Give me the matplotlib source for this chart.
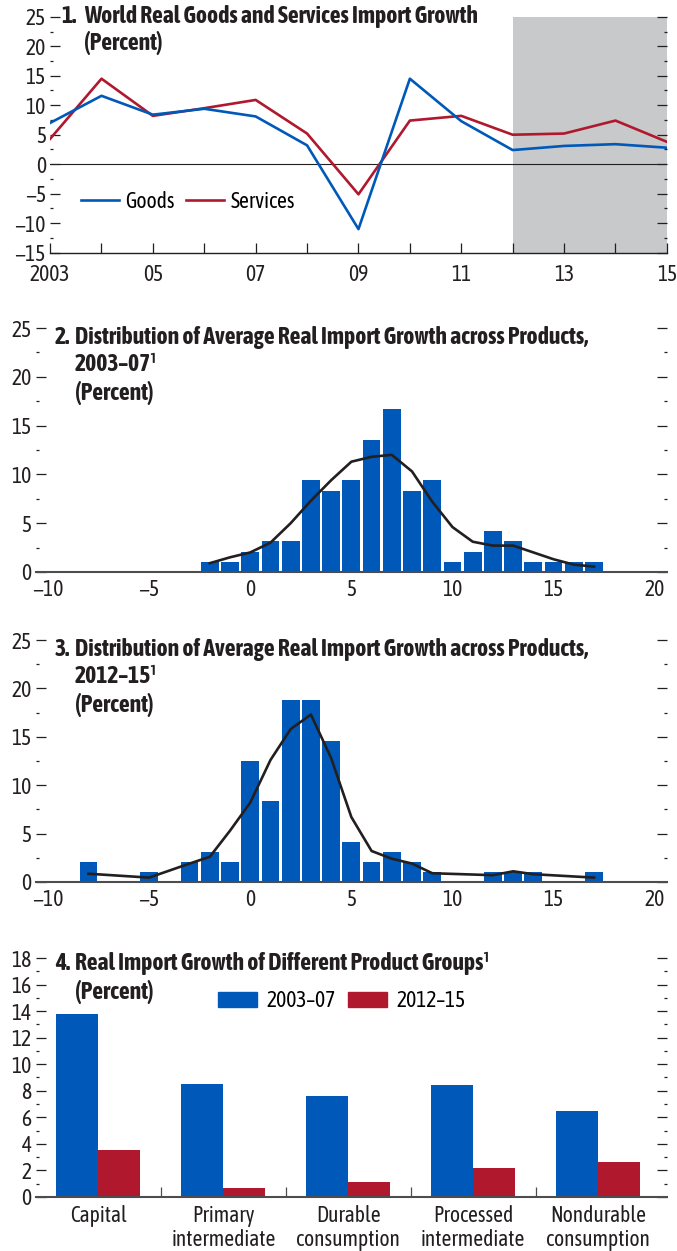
import matplotlib
matplotlib.use("Agg")
import matplotlib.pyplot as plt
import matplotlib.patheffects as pe
from matplotlib import font_manager
from matplotlib.font_manager import FontProperties
from matplotlib.ticker import MultipleLocator
from matplotlib.patches import Patch

# ---- data ----
years = list(range(2003, 2016))
goods = [7.0, 11.6, 8.4, 9.4, 8.1, 3.2, -11.0, 14.5, 7.3, 2.4, 3.1, 3.4, 2.8]
services = [4.3, 14.5, 8.2, 9.5, 10.9, 5.2, -5.1, 7.4, 8.2, 5.0, 5.2, 7.4, 3.8]

bins_0307 = list(range(-2, 18))
share_0307 = [1.04, 1.04, 2.08, 3.13, 3.13, 9.38, 8.33, 9.38, 13.54, 16.67,
              8.33, 9.38, 1.04, 2.08, 4.17, 3.13, 1.04, 1.04, 1.04, 1.04]
kde_x_0307 = list(range(-2, 18))
kde_y_0307 = [0.9, 1.5, 2.0, 3.0, 5.0, 7.3, 9.4, 11.3, 11.8, 12.0,
              10.3, 7.2, 4.6, 3.1, 2.7, 2.7, 2.0, 1.3, 0.75, 0.55]

bins_1215 = [-8, -5, -3, -2, -1, 0, 1, 2, 3, 4, 5, 6, 7, 8, 9, 12, 13, 14, 17]
share_1215 = [2.08, 1.04, 2.08, 3.13, 2.08, 12.5, 8.33, 18.75, 18.75, 14.58,
              4.17, 2.08, 3.13, 2.08, 1.04, 1.04, 1.04, 1.04, 1.04]
kde_x_1215 = [-8, -5, -3, -2, -1, 0, 1, 2, 3, 4, 5, 6, 7, 8, 9, 12, 13, 14, 17]
kde_y_1215 = [0.85, 0.45, 1.9, 2.6, 5.3, 8.2, 12.6, 15.8, 17.3, 12.8,
              6.7, 3.2, 2.4, 1.9, 0.9, 0.7, 1.1, 0.8, 0.45]

groups = ["Capital", "Primary\nintermediate", "Durable\nconsumption",
          "Processed\nintermediate", "Nondurable\nconsumption"]
growth_0307 = [13.8, 8.5, 7.6, 8.4, 6.5]
growth_1215 = [3.5, 0.7, 1.1, 2.2, 2.6]

# ---- style ----
# the original uses a narrow grotesque; take a narrow face if one is installed
names = sorted({f.name for f in font_manager.fontManager.ttflist})
narrow = [n for n in names if "Narrow" in n or "Condensed" in n]
pref = [n for n in narrow if "Liberation" in n or "Arial" in n] + narrow


def has_bold(name):
    try:
        path = font_manager.findfont(FontProperties(family=name, weight="bold"),
                                     fallback_to_default=False)
    except Exception:
        return False
    return "bold" in path.lower()


font, FS, TFS, fake_bold = "Liberation Sans", 12, 13, False
if pref:
    with_bold = [n for n in pref if has_bold(n)]
    if with_bold:
        font, FS, TFS = with_bold[0], 15.5, 17
    else:
        font, FS, TFS, fake_bold = pref[0], 14, 15, True
plt.rcParams["font.family"] = [font, "DejaVu Sans"]
plt.rcParams["font.size"] = FS

BLUE = "#0059B8"
RED = "#B0182E"
GRAY = "#C8C9CA"
INK = "#231F20"
SPINE = "#4D4D4F"


def style_axes(ax, ymin, ymax, major, minor):
    ax.set_ylim(ymin, ymax)
    ax.yaxis.set_major_locator(MultipleLocator(major))
    ax.yaxis.set_minor_locator(MultipleLocator(minor))
    ax.tick_params(axis="y", which="both", direction="in", left=True, right=True,
                   labelleft=True, labelright=False, colors=INK, pad=3)
    ax.tick_params(axis="y", which="major", length=7, width=0.9)
    ax.tick_params(axis="y", which="minor", length=2.5, width=0.9)
    for s in ["left", "right", "top"]:
        ax.spines[s].set_visible(False)
    ax.tick_params(axis="x", colors=INK)


def add_title(ax, num, lines, x0, x1, y, step):
    # one text per line, stepped down in points
    effects = [pe.withStroke(linewidth=1.0, foreground=INK)] if fake_bold else None
    kw = dict(xycoords="axes fraction", textcoords="offset points", fontweight="bold",
              fontsize=TFS, va="top", ha="left", color=INK, path_effects=effects)
    ax.annotate(num, (x0, y), xytext=(0, 0), **kw)
    for k, s in enumerate(lines):
        ax.annotate(s, (x1, y), xytext=(0, -k * step), **kw)


fig = plt.figure(figsize=(6.77, 12.51), dpi=100)

# ---- panel 1 ----
ax1 = fig.add_axes([0.074, 0.798, 0.911, 0.1886])
ax1.axvspan(2012, 2015, color=GRAY, lw=0, zorder=0)
ax1.axhline(0, color=INK, lw=0.8, zorder=1)
ax1.plot(years, goods, color=BLUE, lw=1.9, label="Goods", zorder=3)
ax1.plot(years, services, color=RED, lw=1.9, label="Services", zorder=2)
ax1.set_xlim(2003, 2015)
style_axes(ax1, -15, 25, 5, 2.5)
ax1.set_xticks(years)
ax1.set_xticklabels(["2003" if y == 2003 else ("%02d" % (y % 100) if y % 2 == 1 else "")
                     for y in years])
ax1.tick_params(axis="x", direction="in", length=7, width=0.9, pad=8)
ax1.spines["bottom"].set_color(INK)
ax1.spines["bottom"].set_linewidth(1.0)
add_title(ax1, "1.", ["World Real Goods and Services Import Growth", "(Percent)"],
          0.018, 0.055, 1.05, step=18.5)
ax1.legend(loc="center left", bbox_to_anchor=(0.036, 0.215), frameon=False,
           ncol=2, handlelength=1.75, columnspacing=0.55, handletextpad=0.3,
           borderaxespad=0, fontsize=FS)

# ---- panels 2 and 3 ----
def hist_panel(rect, bins, share, kx, ky, num, lines):
    ax = fig.add_axes(rect)
    ax.bar(bins, share, width=0.88, color=BLUE, zorder=2)
    ax.plot(kx, ky, color=INK, lw=1.9, zorder=3)
    ax.set_xlim(-10.6, 20.6)
    style_axes(ax, 0, 25, 5, 2.5)
    ax.set_xticks(range(-10, 21, 5))
    ax.tick_params(axis="x", length=0, pad=5)
    ax.spines["bottom"].set_color(SPINE)
    ax.spines["bottom"].set_linewidth(1.5)
    add_title(ax, num, lines, 0.03, 0.062, 1.01, step=19.8)
    return ax


hist_panel([0.053, 0.5428, 0.932, 0.195], bins_0307, share_0307,
           kde_x_0307, kde_y_0307, "2.",
           ["Distribution of Average Real Import Growth across Products,",
            "2003\u201307\u00b9", "(Percent)"])
hist_panel([0.053, 0.295, 0.932, 0.1934], bins_1215, share_1215,
           kde_x_1215, kde_y_1215, "3.",
           ["Distribution of Average Real Import Growth across Products,",
            "2012\u201315\u00b9", "(Percent)"])

# ---- panel 4 ----
ax4 = fig.add_axes([0.053, 0.0432, 0.932, 0.191])
idx = list(range(len(groups)))
w = 0.335
ax4.bar([i - w / 2 for i in idx], growth_0307, width=w, color=BLUE, zorder=2)
ax4.bar([i + w / 2 for i in idx], growth_1215, width=w, color=RED, zorder=2)
ax4.set_xlim(-0.5, 4.55)
style_axes(ax4, 0, 18, 2, 1)
ax4.set_xticks(idx)
ax4.set_xticklabels(groups, linespacing=1.12)
ax4.set_xticks([i + 0.5 for i in idx[:-1]], minor=True)
ax4.tick_params(axis="x", which="major", length=0, pad=6)
ax4.tick_params(axis="x", which="minor", direction="in", length=7, width=0.9, color=SPINE)
ax4.spines["bottom"].set_color(SPINE)
ax4.spines["bottom"].set_linewidth(1.5)
add_title(ax4, "4.", ["Real Import Growth of Different Product Groups\u00b9", "(Percent)"],
          0.03, 0.062, 1.025, step=19.8)
ax4.legend(handles=[Patch(color=BLUE, label="2003\u201307"), Patch(color=RED, label="2012\u201315")],
           loc="center", bbox_to_anchor=(0.485, 0.82), frameon=False, ncol=2,
           handlelength=1.8, handleheight=0.75, handletextpad=0.45, columnspacing=0.6,
           fontsize=FS)

fig.savefig("out.png", dpi=100)
